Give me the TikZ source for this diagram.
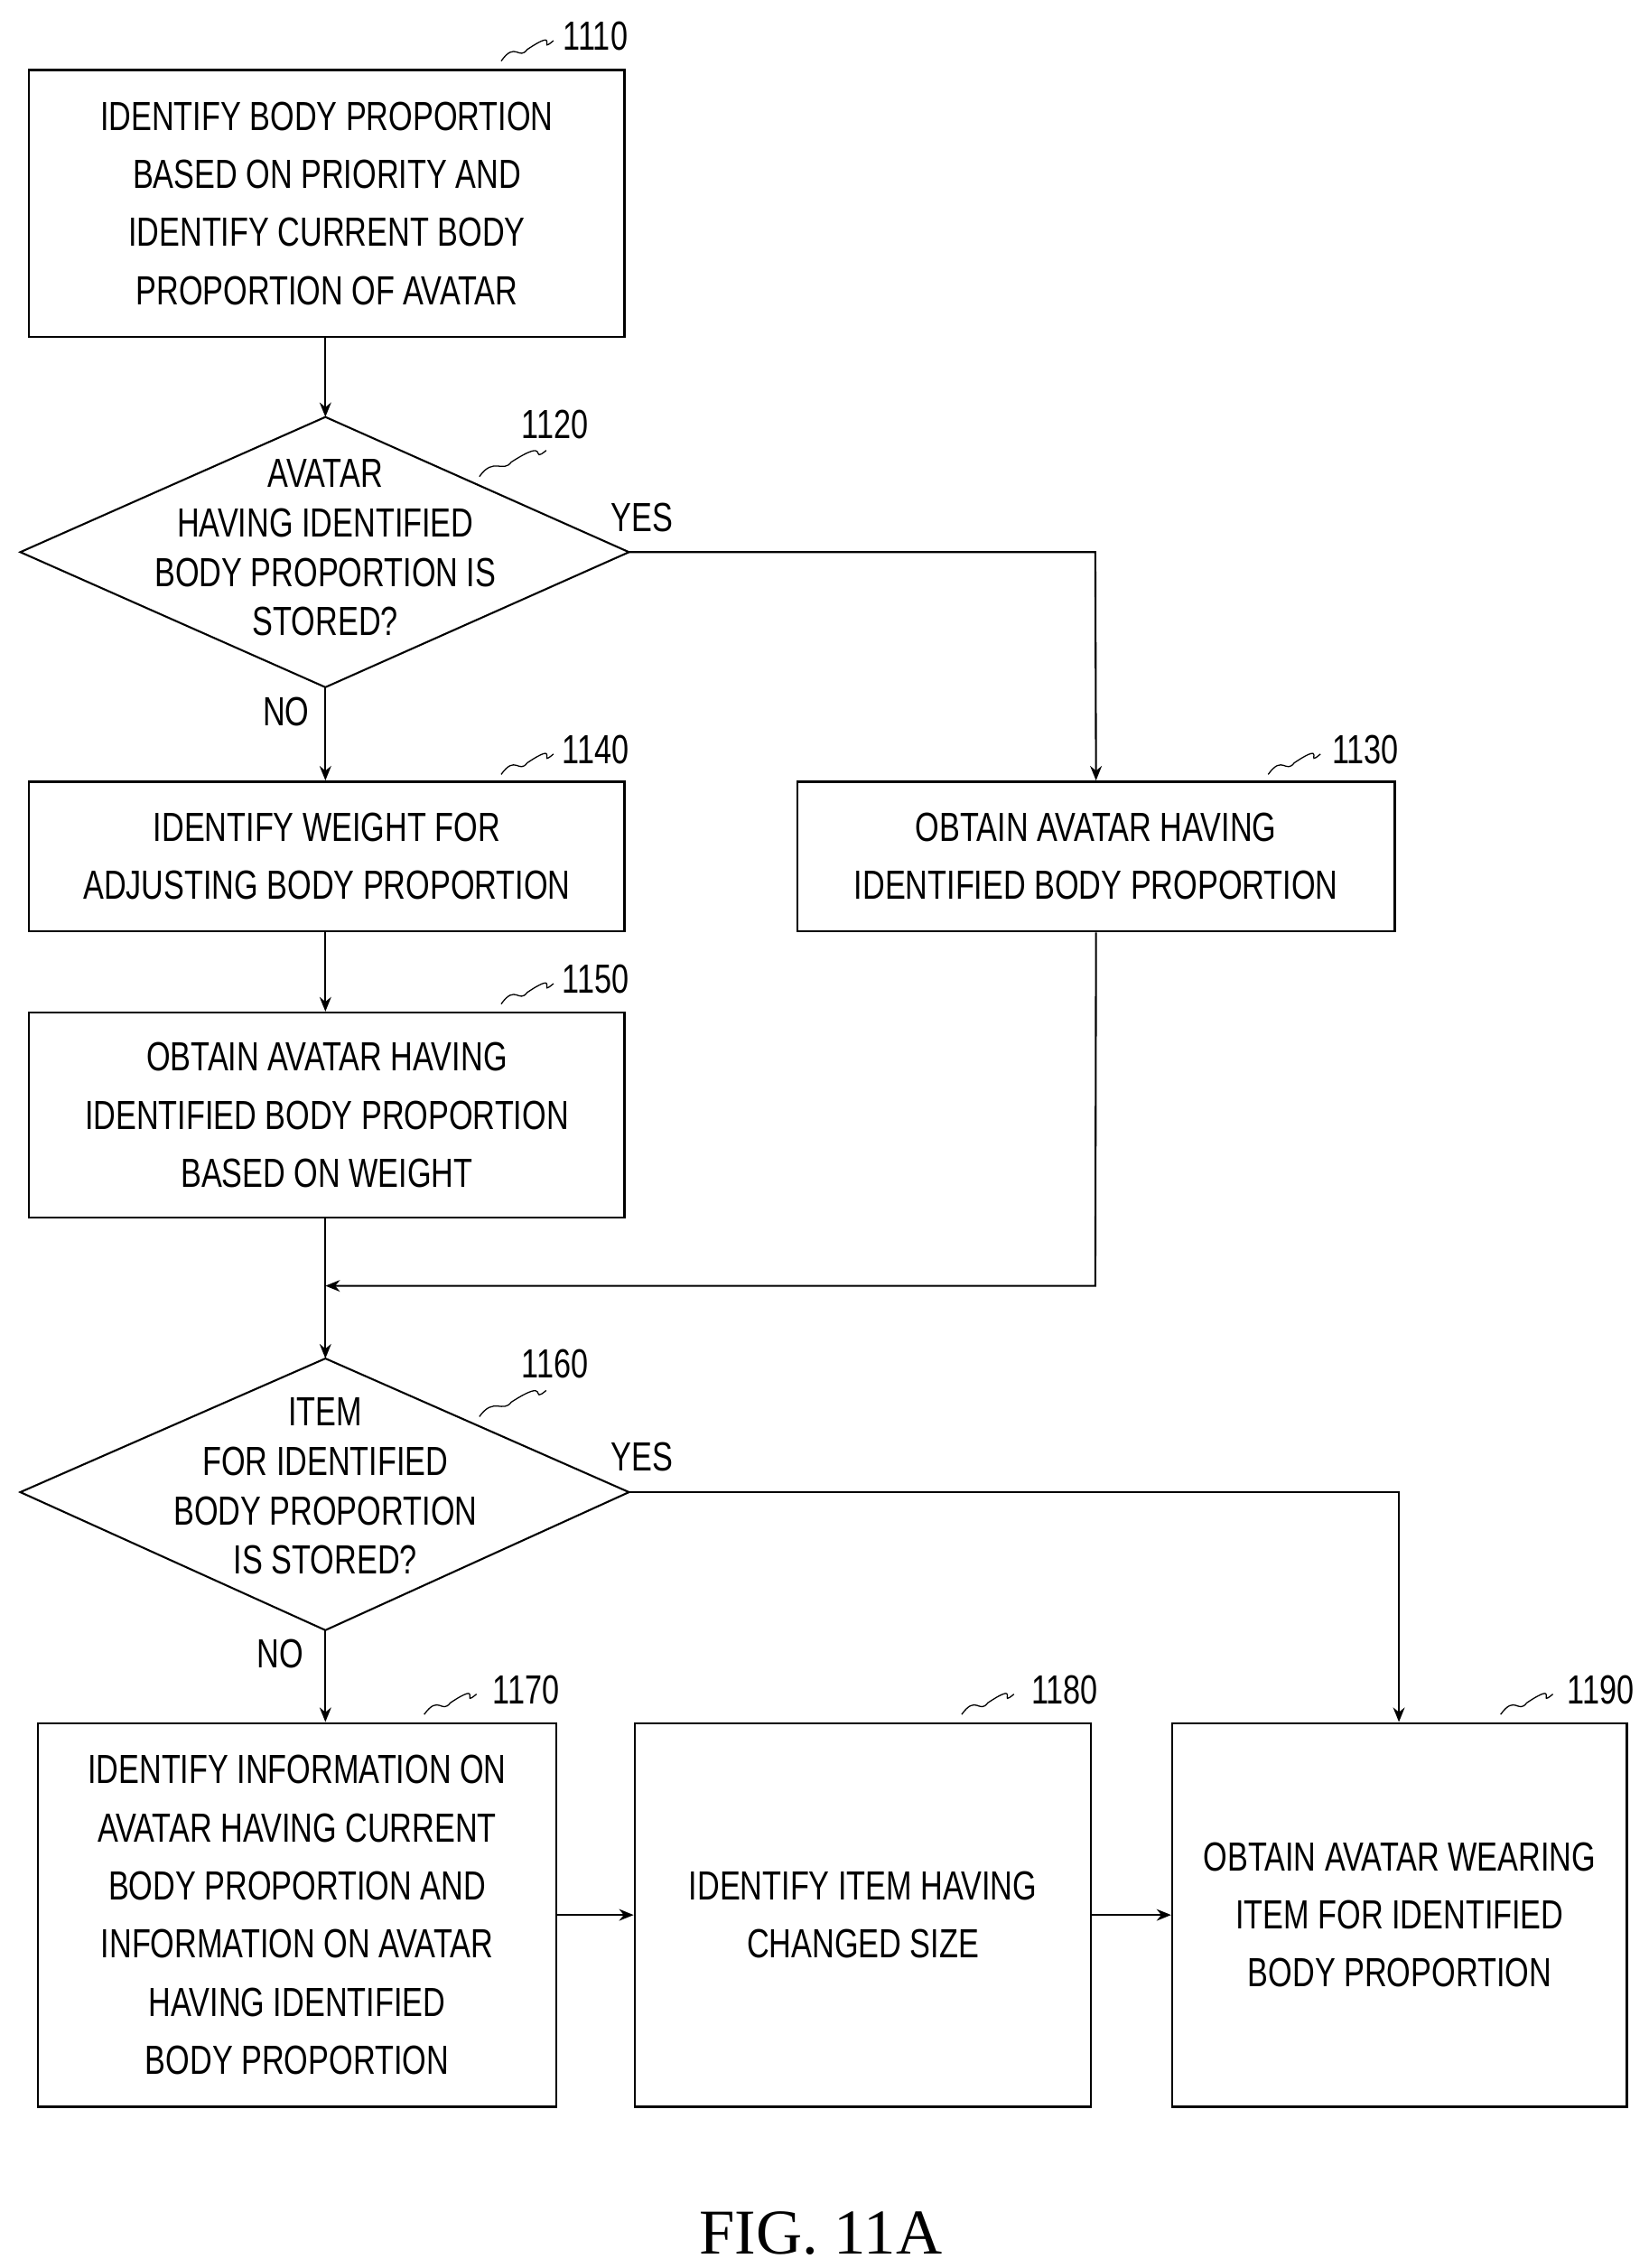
\documentclass[tikz,border=0pt]{standalone}
\usepackage{fontspec}
\setmainfont[FakeStretch=0.76]{Liberation Sans}
\newfontfamily\figfont{Liberation Serif}
\usetikzlibrary{arrows.meta}
\begin{document}
\begin{tikzpicture}[x=1pt,y=-1pt,
  box/.style={draw,line width=1.6pt,inner sep=0pt,align=center,font=\fontsize{28}{40}\selectfont},
  dtext/.style={align=center,font=\fontsize{28}{34}\selectfont},
  lbl/.style={font=\fontsize{28}{30}\selectfont},
  arr/.style={line width=1.3pt,-{Stealth[length=10pt,width=8pt]}},
  ln/.style={line width=1.3pt},
  sq/.style={line width=0.8pt}]
\useasboundingbox (0,0) rectangle (1135,1561);
% boxes
\node[box,minimum width=410pt,minimum height=184pt] (b1110) at (225,140) {IDENTIFY BODY PROPORTION\\BASED ON PRIORITY AND\\IDENTIFY CURRENT BODY\\PROPORTION OF AVATAR};
\draw[ln] (14,380) -- (224,287) -- (433,380) -- (224,473) -- cycle;
\coordinate (d1t) at (224,287); \coordinate (d1r) at (433,380); \coordinate (d1b) at (224,473);
\node[dtext] (t1120) at (224,377) {AVATAR\\HAVING IDENTIFIED\\BODY PROPORTION IS\\STORED?};
\node[box,minimum width=410pt,minimum height=103pt] (b1140) at (225,589.5) {IDENTIFY WEIGHT FOR\\ADJUSTING BODY PROPORTION};
\node[box,minimum width=411pt,minimum height=103pt] (b1130) at (754.5,589.5) {OBTAIN AVATAR HAVING\\IDENTIFIED BODY PROPORTION};
\node[box,minimum width=410pt,minimum height=141pt] (b1150) at (225,767.5) {OBTAIN AVATAR HAVING\\IDENTIFIED BODY PROPORTION\\BASED ON WEIGHT};
\draw[ln] (14,1027) -- (224,935) -- (433,1027) -- (224,1122) -- cycle;
\coordinate (d2t) at (224,935); \coordinate (d2r) at (433,1027); \coordinate (d2b) at (224,1122);
\node[dtext] (t1160) at (224,1023) {ITEM\\FOR IDENTIFIED\\BODY PROPORTION\\IS STORED?};
\node[box,minimum width=357pt,minimum height=264pt] (b1170) at (204.5,1318) {IDENTIFY INFORMATION ON\\AVATAR HAVING CURRENT\\BODY PROPORTION AND\\INFORMATION ON AVATAR\\HAVING IDENTIFIED\\BODY PROPORTION};
\node[box,minimum width=314pt,minimum height=264pt] (b1180) at (594,1318) {IDENTIFY ITEM HAVING\\CHANGED SIZE};
\node[box,minimum width=313pt,minimum height=264pt] (b1190) at (963.5,1318) {OBTAIN AVATAR WEARING\\ITEM FOR IDENTIFIED\\BODY PROPORTION};
% connectors
\draw[arr] (b1110.south -| d1t) -- (d1t);
\draw[arr] (d1r) -- (754,380) -- (b1130.north);
\draw[arr] (d1b) -- (b1140.north -| d1b);
\draw[arr] (b1140.south -| d1b) -- (b1150.north -| d1b);
\coordinate (m) at (224,885);
\draw[arr] (b1130.south) -- (754,885) -- (m);
\draw[arr] (b1150.south -| d1b) -- (d2t);
\draw[arr] (d2r) -- (963,1027) -- (b1190.north -| 963,0);
\draw[arr] (d2b) -- (b1170.north -| d2b);
\draw[arr] (b1170.east) -- (b1180.west);
\draw[arr] (b1180.east) -- (b1190.west);
% labels
\node[lbl] (yes1) at (442,356) {YES};
\node[lbl] (no1) at (197,490) {NO};
\node[lbl] (yes2) at (442,1003) {YES};
\node[lbl] (no2) at (193,1138) {NO};
\node[lbl] (n1110) at (410,25) {1110};
\node[lbl] (n1120) at (382,292) {1120};
\node[lbl] (n1140) at (410,516) {1140};
\node[lbl] (n1130) at (940,516) {1130};
\node[lbl] (n1150) at (410,674) {1150};
\node[lbl] (n1160) at (382,939) {1160};
\node[lbl] (n1170) at (362,1163) {1170};
\node[lbl] (n1180) at (733,1163) {1180};
\node[lbl] (n1190) at (1102,1163) {1190};
% squiggles
\foreach \x/\y in {345/42, 873/533, 345/533, 345/691, 292/1180, 662/1180, 1033/1180}{
  \draw[sq] (\x,\y) .. controls +(10,-14) and +(-6,8) .. +(18,-8) .. controls +(24,-16) and +(-12,10) .. +(36,-14);
}
\foreach \x/\y in {330/328, 330/975}{
  \draw[sq] (\x,\y) .. controls +(10,-14) and +(-6,8) .. +(22,-10) .. controls +(28,-18) and +(-12,10) .. +(46,-18);
}
\node[font=\figfont\fontsize{44}{44}\selectfont] (fig) at (565,1537) {FIG.\ 11A};
\end{tikzpicture}
\end{document}
